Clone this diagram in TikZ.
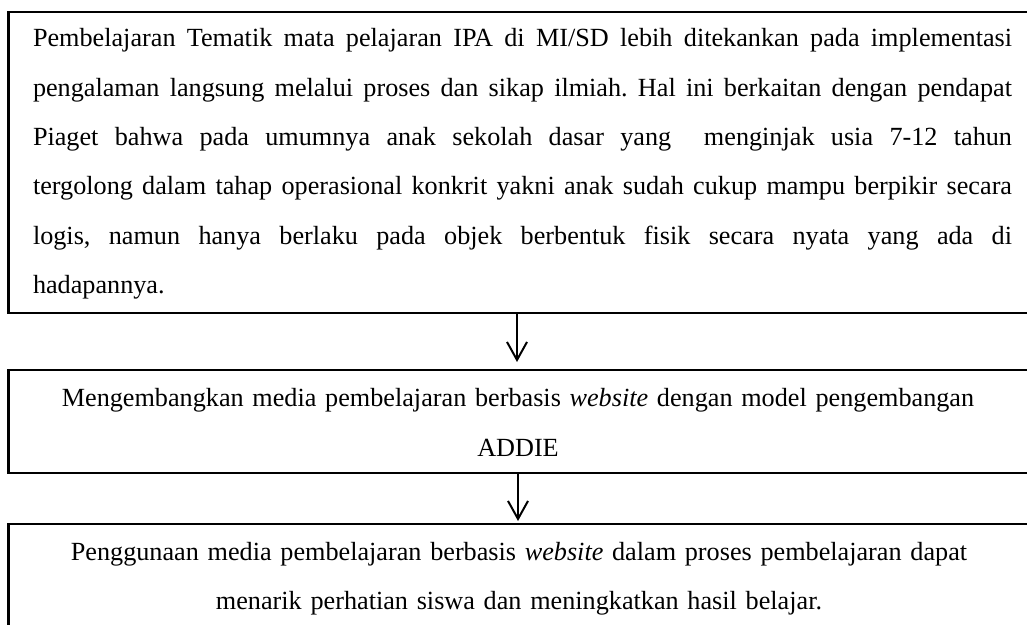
\documentclass[tikz,border=0pt]{standalone}
\usepackage{fontspec}
\setmainfont{Liberation Serif}
\usetikzlibrary{arrows.meta}
\frenchspacing
\begin{document}
\begin{tikzpicture}[x=1pt,y=-1pt,
  box/.style={draw,line width=2.4pt,rectangle,inner sep=0pt,outer sep=0pt,anchor=north west,minimum width=1020.5pt},
  txt/.style={inner sep=0pt,outer sep=0pt,font=\fontsize{26.2}{49.3}\selectfont},
  arr/.style={line width=2pt,-{Straight Barb[length=18pt,width=20pt,line width=2pt]}}]
\useasboundingbox (0,0) rectangle (1027,624);
\begin{scope}
\clip (0,0) rectangle (1027,624);
\node[box,minimum height=301pt] (b1) at (8.5,12) {};
\node[box,minimum height=103pt] (b2) at (8.5,370) {};
\node[box,minimum height=110pt] (b3) at (8.5,524) {};
\end{scope}
\node[txt,anchor=north west,text width=979pt,align=justify] (t1) at (33,28.8) {\frenchspacing\emergencystretch=3em
Pembelajaran Tematik mata pelajaran IPA di MI/SD lebih ditekankan pada implementasi\linebreak
pengalaman langsung melalui proses dan sikap ilmiah. Hal ini berkaitan dengan pendapat\linebreak
Piaget bahwa pada umumnya anak sekolah dasar yang\ \ menginjak usia 7-12 tahun\linebreak
tergolong dalam tahap operasional konkrit yakni anak sudah cukup mampu berpikir secara\linebreak
logis, namun hanya berlaku pada objek berbentuk fisik secara nyata yang ada di\linebreak
hadapannya.};
\node[txt,anchor=north,text width=1000pt,align=center] (t2) at (518,388.8) {Mengembangkan media pembelajaran berbasis \textit{website} dengan model pengembangan\\ADDIE};
\node[txt,anchor=north,text width=1000pt,align=center] (t3) at (519,542.1) {Penggunaan media pembelajaran berbasis \textit{website} dalam proses pembelajaran dapat\\menarik perhatian siswa dan meningkatkan hasil belajar.};
\draw[arr] ([xshift=-1.75pt]b1.south) -- ([xshift=-1.75pt,yshift=8pt]b2.north);
\draw[arr] ([xshift=-0.75pt]b2.south) -- ([xshift=-0.75pt,yshift=3pt]b3.north);
\end{tikzpicture}
\end{document}
